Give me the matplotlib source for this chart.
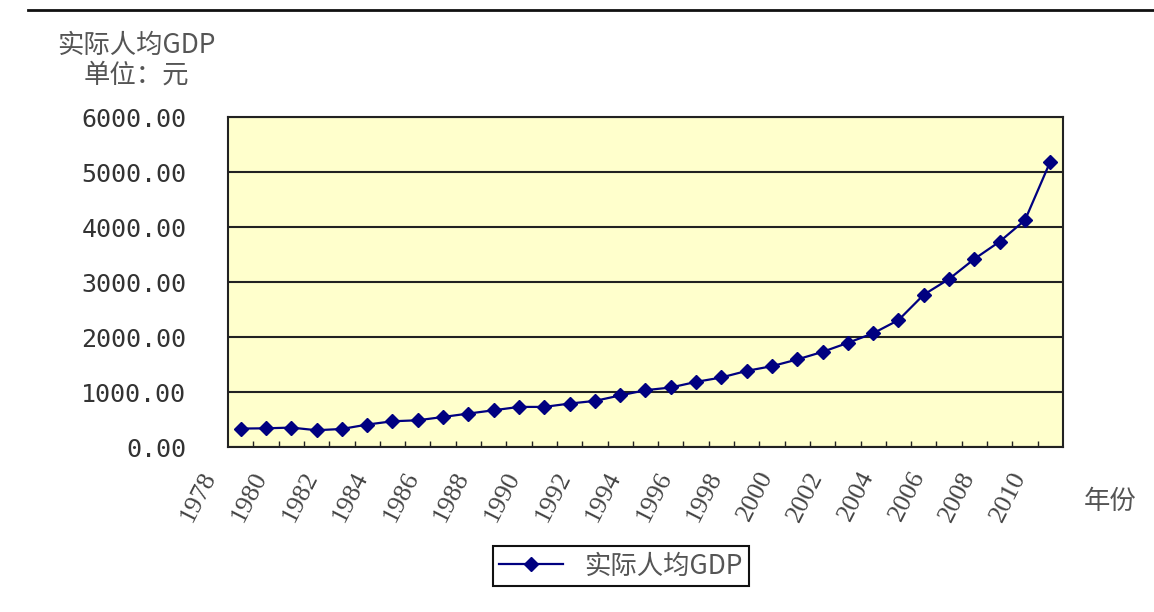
import matplotlib
matplotlib.use('Agg')
import matplotlib.pyplot as plt
import matplotlib.transforms as mtransforms
from matplotlib.lines import Line2D

plt.rcParams['font.family'] = ['Noto Sans CJK SC', 'DejaVu Sans']

# 实际人均GDP, 1978-2010
years = list(range(1978, 2011))
gdp = [335, 340, 353, 305, 328, 408, 468, 486, 546, 608, 668,
       729, 729, 790, 838, 938, 1033, 1082, 1184, 1264, 1384, 1470,
       1592, 1730, 1894, 2068, 2308, 2770, 3055, 3420, 3735, 4125, 5190]
y_ticks = [0, 1000, 2000, 3000, 4000, 5000, 6000]
series_name = '实际人均GDP'

fig = plt.figure(figsize=(11.54, 6.12), dpi=100)
ax = fig.add_axes([0.1976, 0.2696, 0.7235, 0.5392])
ax.set_facecolor('#FFFFCC')

x = list(range(len(years)))
ax.plot(x, gdp, color='#000080', lw=1.6, marker='D', ms=7.5,
        markerfacecolor='#000080', markeredgecolor='#000080', label=series_name)

ax.set_xlim(-0.5, len(years) - 0.5)
ax.set_ylim(0, 6000)

# horizontal grid lines
ax.set_yticks(y_ticks)
ax.set_yticklabels(['%.2f' % v for v in y_ticks], family='DejaVu Sans Mono',
                   fontsize=18, color='#333333')
ax.yaxis.grid(True, color='#222222', lw=1.5)
ax.set_axisbelow(True)
ax.tick_params(axis='y', length=0, pad=30)

# x: small inner ticks at category boundaries, labels every 2 years
ax.set_xticks([i + 0.5 for i in x[:-1]], minor=True)
ax.tick_params(axis='x', which='minor', direction='in', length=4, width=1, color='#222222')
ax.set_xticks(x[::2])
ax.set_xticklabels([str(y) for y in years[::2]], rotation=63, family='Liberation Serif',
                   fontsize=19, color='#444444', ha='center', va='top')
ax.tick_params(axis='x', which='major', length=0, pad=15)
offset = mtransforms.ScaledTranslation(-0.42, 0, fig.dpi_scale_trans)
for lab in ax.get_xticklabels():
    lab.set_transform(lab.get_transform() + offset)

for s in ax.spines.values():
    s.set_color('#222222')
    s.set_linewidth(1.5)

fig.text(0.118, 0.925, '实际人均GDP', fontsize=19, color='#555555', ha='center', va='center')
fig.text(0.118, 0.878, '单位：元', fontsize=19, color='#555555', ha='center', va='center')
fig.text(0.962, 0.18, '年份', fontsize=19, color='#555555', ha='center', va='center')

# top rule
fig.add_artist(Line2D([0.024, 1.0], [0.984, 0.984], color='#111111', lw=2))

leg = fig.legend(loc='center', bbox_to_anchor=(0.538, 0.075), fancybox=False,
                 fontsize=19, handlelength=2.4, borderpad=0.25,
                 edgecolor='#111111', framealpha=1)
leg.get_frame().set_linewidth(1.5)
for t in leg.get_texts():
    t.set_color('#555555')

fig.savefig('out.png', dpi=100)
